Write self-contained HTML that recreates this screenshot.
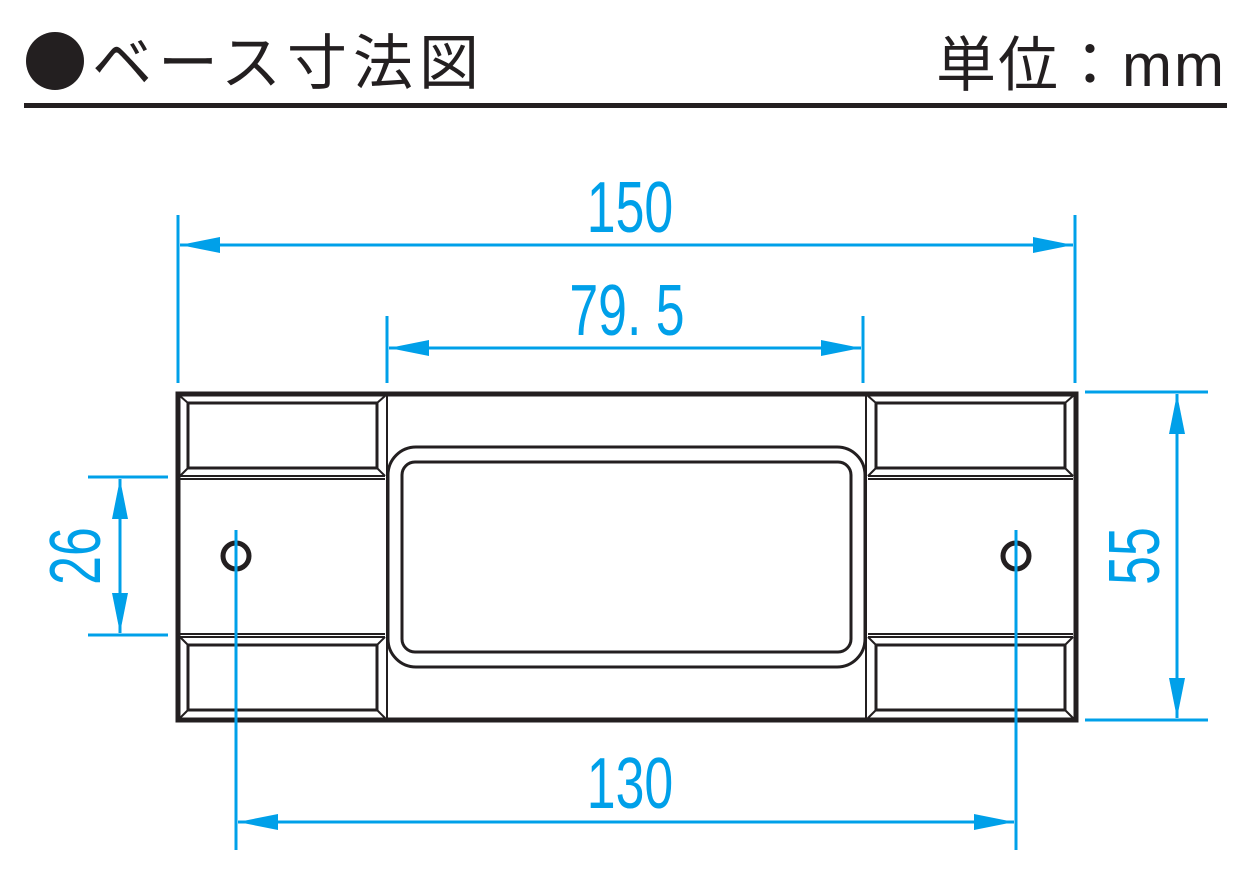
<!DOCTYPE html>
<html><head><meta charset="utf-8"><style>
html,body{margin:0;padding:0;background:#fff;}
svg{display:block}
</style></head><body>
<svg width="1250" height="880" viewBox="0 0 1250 880" xmlns="http://www.w3.org/2000/svg">
<defs>
<marker id="a" viewBox="0 0 40 16" refX="40" refY="8" markerWidth="40" markerHeight="16" markerUnits="userSpaceOnUse" orient="auto-start-reverse"><path d="M0,0 L40,8 L0,16 Z" fill="#00a0e9"/></marker>
</defs>
<!-- header -->
<circle cx="55" cy="61" r="29" fill="#231f20"/>
<text x="92" y="84" font-family="'Liberation Sans','Noto Sans CJK JP',sans-serif" font-size="60" letter-spacing="6" fill="#231f20">ベース寸法図</text>
<text x="1226" y="86" text-anchor="end" font-family="'Liberation Sans','Noto Sans CJK JP',sans-serif" font-size="60" letter-spacing="2" fill="#231f20">単位：mm</text>
<rect x="24" y="103" width="1203" height="5" fill="#231f20"/>

<g stroke="#00a0e9" stroke-width="3" fill="none">
<line x1="178" y1="215" x2="178" y2="383"/>
<line x1="1075" y1="215" x2="1075" y2="383"/>
<line x1="180" y1="245" x2="1073" y2="245" marker-start="url(#a)" marker-end="url(#a)"/>
<line x1="387" y1="316" x2="387" y2="383"/>
<line x1="863" y1="316" x2="863" y2="383"/>
<line x1="389" y1="348" x2="861" y2="348" marker-start="url(#a)" marker-end="url(#a)"/>
<line x1="238" y1="822" x2="1014" y2="822" marker-start="url(#a)" marker-end="url(#a)"/>
<line x1="88" y1="477" x2="168" y2="477"/>
<line x1="88" y1="635" x2="168" y2="635"/>
<line x1="120" y1="479" x2="120" y2="633" marker-start="url(#a)" marker-end="url(#a)"/>
<line x1="1085" y1="392" x2="1208" y2="392"/>
<line x1="1085" y1="720" x2="1208" y2="720"/>
<line x1="1177" y1="394" x2="1177" y2="718" marker-start="url(#a)" marker-end="url(#a)"/>
</g>
<g font-family="'Liberation Sans',sans-serif" font-size="72" fill="#00a0e9" text-anchor="middle">
<text transform="translate(630 232) scale(0.72 1)">150</text>
<text transform="translate(627 335) scale(0.72 1)">79. 5</text>
<text transform="translate(630 808) scale(0.72 1)">130</text>
<text transform="translate(100 556) rotate(-90) scale(0.72 1)">26</text>
<text transform="translate(1159 556) rotate(-90) scale(0.72 1)">55</text>
</g>

<!-- base -->
<g fill="none" stroke="#231f20">
<rect x="178" y="394" width="898" height="326" stroke-width="5"/>
<line x1="387" y1="394" x2="387" y2="720" stroke-width="2"/>
<line x1="866" y1="394" x2="866" y2="720" stroke-width="2"/>
<rect x="188" y="403" width="189" height="65" stroke-width="3"/>
<line x1="180" y1="396" x2="188" y2="403" stroke-width="2"/>
<line x1="385" y1="396" x2="377" y2="403" stroke-width="2"/>
<line x1="180" y1="476" x2="188" y2="468" stroke-width="2"/>
<line x1="385" y1="476" x2="377" y2="468" stroke-width="2"/>
<line x1="180" y1="476" x2="385" y2="476" stroke-width="2"/>
<line x1="180" y1="479" x2="385" y2="479" stroke-width="2"/>
<rect x="188" y="645" width="189" height="65" stroke-width="3"/>
<line x1="180" y1="634" x2="385" y2="634" stroke-width="2"/>
<line x1="180" y1="637" x2="385" y2="637" stroke-width="2"/>
<line x1="180" y1="637" x2="188" y2="645" stroke-width="2"/>
<line x1="385" y1="637" x2="377" y2="645" stroke-width="2"/>
<line x1="180" y1="718" x2="188" y2="710" stroke-width="2"/>
<line x1="385" y1="718" x2="377" y2="710" stroke-width="2"/>
<rect x="876" y="403" width="189" height="65" stroke-width="3"/>
<line x1="868" y1="396" x2="876" y2="403" stroke-width="2"/>
<line x1="1073" y1="396" x2="1065" y2="403" stroke-width="2"/>
<line x1="868" y1="476" x2="876" y2="468" stroke-width="2"/>
<line x1="1073" y1="476" x2="1065" y2="468" stroke-width="2"/>
<line x1="868" y1="476" x2="1073" y2="476" stroke-width="2"/>
<line x1="868" y1="479" x2="1073" y2="479" stroke-width="2"/>
<rect x="876" y="645" width="189" height="65" stroke-width="3"/>
<line x1="868" y1="634" x2="1073" y2="634" stroke-width="2"/>
<line x1="868" y1="637" x2="1073" y2="637" stroke-width="2"/>
<line x1="868" y1="637" x2="876" y2="645" stroke-width="2"/>
<line x1="1073" y1="637" x2="1065" y2="645" stroke-width="2"/>
<line x1="868" y1="718" x2="876" y2="710" stroke-width="2"/>
<line x1="1073" y1="718" x2="1065" y2="710" stroke-width="2"/>
<rect x="388" y="447" width="477" height="220" rx="28" stroke-width="3"/>
<rect x="402" y="462" width="449" height="190" rx="13" stroke-width="3"/>
<circle cx="236" cy="556" r="13" stroke-width="5"/>
<circle cx="1016" cy="556" r="13" stroke-width="5"/>
</g>
<line x1="236" y1="530" x2="236" y2="850" stroke="#00a0e9" stroke-width="3"/>
<line x1="1016" y1="530" x2="1016" y2="850" stroke="#00a0e9" stroke-width="3"/>
</svg>
</body></html>
